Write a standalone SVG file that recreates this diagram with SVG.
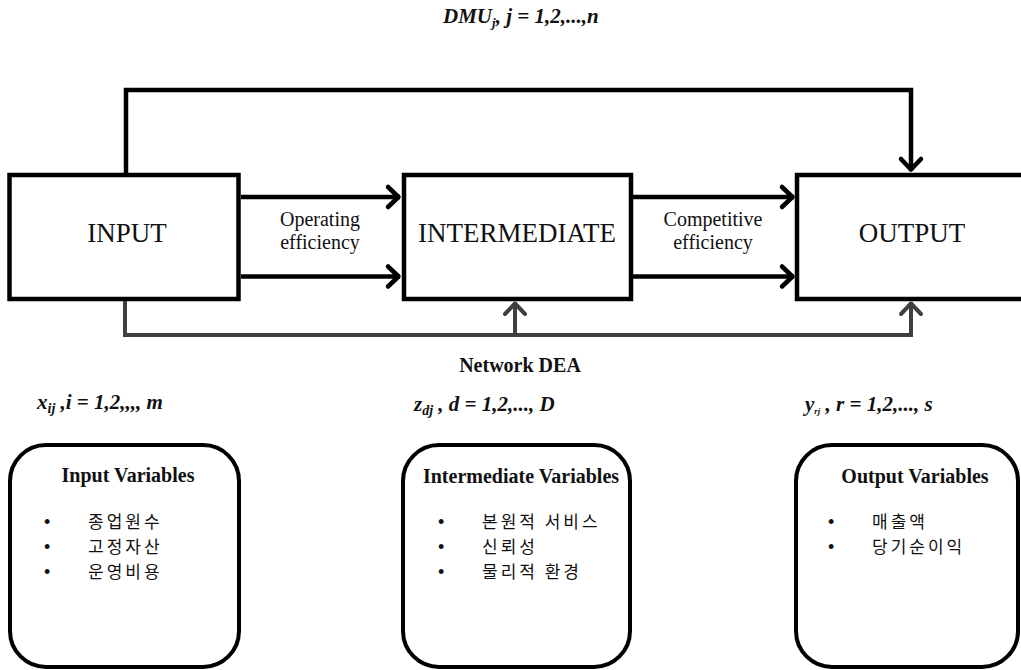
<svg xmlns="http://www.w3.org/2000/svg" width="1021" height="670" viewBox="0 0 1021 670">
<style>
.box{fill:#fff;stroke:#000;stroke-width:4.5}
.var{fill:#fff;stroke:#000;stroke-width:4}
.lbl{font-family:"Liberation Serif","Times New Roman",serif;fill:#111;text-anchor:middle}
.big{font-size:27px}
.mid{font-size:20px}
.math{font-family:"Liberation Serif","Times New Roman",serif;font-style:italic;font-weight:bold;font-size:21px;fill:#111}
.ttl{font-family:"Liberation Serif","Times New Roman",serif;font-weight:bold;font-size:20px;fill:#111;text-anchor:middle}
.kr{font-family:"Noto Sans CJK KR",sans-serif;font-size:17px;letter-spacing:3px;fill:#111}
.bul{font-family:"Liberation Sans",Arial,sans-serif;font-size:18px;fill:#111}
.blk{fill:none;stroke:#000;stroke-width:4.5}
.gry{fill:none;stroke:#404040;stroke-width:4}
</style>
<defs>
<marker id="ah" markerUnits="userSpaceOnUse" viewBox="-16 -14 20 28" refX="0" refY="0" markerWidth="20" markerHeight="28" orient="auto">
<path d="M-12,-10 L-1.5,0 L-12,10" fill="none" stroke="#000" stroke-width="4.5" stroke-linecap="round" stroke-linejoin="round"/>
</marker>
<marker id="ahg" markerUnits="userSpaceOnUse" viewBox="-16 -14 20 28" refX="0" refY="0" markerWidth="20" markerHeight="28" orient="auto">
<path d="M-12,-10 L-1.5,0 L-12,10" fill="none" stroke="#404040" stroke-width="4" stroke-linecap="round" stroke-linejoin="round"/>
</marker>
</defs>
<rect width="1021" height="670" fill="#fff"/>

<text class="math" x="443" y="23" font-size="20">DMU<tspan font-size="13" dy="4">j</tspan><tspan dy="-4">, j = 1,2,...,n</tspan></text>

<g id="connectors">
<path class="blk" d="M126,173 V90 H911 V171" marker-end="url(#ah)"/>
<line class="blk" x1="241" y1="197" x2="400" y2="197" marker-end="url(#ah)"/>
<line class="blk" x1="241" y1="276.5" x2="400" y2="276.5" marker-end="url(#ah)"/>
<line class="blk" x1="633" y1="197" x2="794" y2="197" marker-end="url(#ah)"/>
<line class="blk" x1="633" y1="276.5" x2="794" y2="276.5" marker-end="url(#ah)"/>
<path class="gry" d="M125,301 V335 H911 V302" marker-end="url(#ahg)"/>
<path class="gry" d="M515,335 V302" marker-end="url(#ahg)"/>
</g>

<g id="input">
<rect class="box" x="9.5" y="175" width="229" height="124"/>
<text class="lbl big" x="127" y="242">INPUT</text>
</g>
<g id="intermediate">
<rect class="box" x="404" y="175" width="227" height="124"/>
<text class="lbl big" x="517" y="242">INTERMEDIATE</text>
</g>
<g id="output">
<rect class="box" x="797" y="175" width="240" height="124"/>
<text class="lbl big" x="912" y="242">OUTPUT</text>
</g>

<g id="label-operating">
<text class="lbl mid" x="320" y="226">Operating<tspan x="320" dy="23">efficiency</tspan></text>
</g>
<g id="label-competitive">
<text class="lbl mid" x="713" y="226">Competitive<tspan x="713" dy="23">efficiency</tspan></text>
</g>

<text class="ttl" x="520" y="372" font-size="22">Network DEA</text>

<text class="math" x="37" y="409">x<tspan font-size="14" dy="4">ij</tspan><tspan dy="-4"> ,i = 1,2,,,, m</tspan></text>
<text class="math" x="414" y="411">z<tspan font-size="14" dy="4">dj</tspan><tspan dy="-4"> , d = 1,2,..., D</tspan></text>
<text class="math" x="805" y="411">y<tspan font-size="9" dy="3">rj</tspan><tspan dy="-3"> , r = 1,2,..., s</tspan></text>

<g id="input-variables">
<rect class="var" x="10" y="445" width="229" height="222" rx="36" ry="36"/>
<text class="ttl" x="128" y="482">Input  Variables</text>
<text class="bul" x="44" y="528">•<tspan x="44" dy="25">•</tspan><tspan x="44" dy="25">•</tspan></text>
<text class="kr" x="88" y="528">종업원수<tspan x="88" dy="25">고정자산</tspan><tspan x="88" dy="25">운영비용</tspan></text>
</g>
<g id="intermediate-variables">
<rect class="var" x="403" y="445" width="227" height="222" rx="36" ry="36"/>
<text class="ttl" x="521" y="483">Intermediate Variables</text>
<text class="bul" x="438" y="528">•<tspan x="438" dy="25">•</tspan><tspan x="438" dy="25">•</tspan></text>
<text class="kr" x="482" y="528">본원적 서비스<tspan x="482" dy="25">신뢰성</tspan><tspan x="482" dy="25">물리적 환경</tspan></text>
</g>
<g id="output-variables">
<rect class="var" x="796" y="445" width="222" height="222" rx="36" ry="36"/>
<text class="ttl" x="915" y="483">Output Variables</text>
<text class="bul" x="828" y="528">•<tspan x="828" dy="25">•</tspan></text>
<text class="kr" x="872" y="528">매출액<tspan x="872" dy="25">당기순이익</tspan></text>
</g>
</svg>
